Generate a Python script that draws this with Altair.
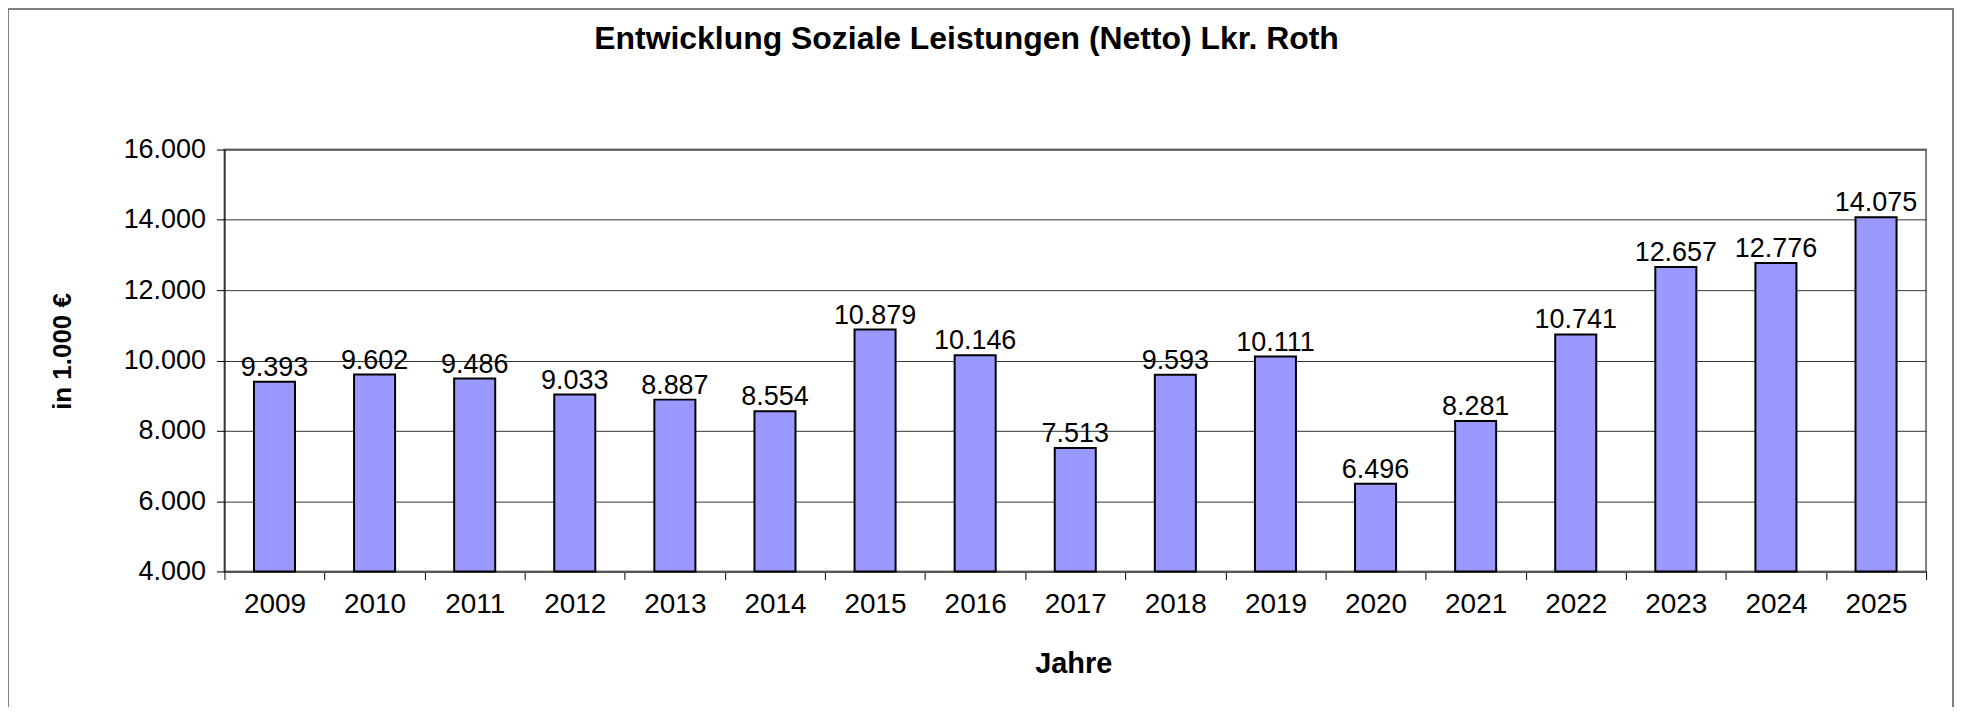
import altair as alt
import pandas as pd

years = ["2009", "2010", "2011", "2012", "2013", "2014", "2015", "2016", "2017",
         "2018", "2019", "2020", "2021", "2022", "2023", "2024", "2025"]
values = [9393, 9602, 9486, 9033, 8887, 8554, 10879, 10146, 7513,
          9593, 10111, 6496, 8281, 10741, 12657, 12776, 14075]
y_ticks = [4000, 6000, 8000, 10000, 12000, 14000, 16000]
y_domain = [4000, 16000]
title_text = "Entwicklung Soziale Leistungen (Netto) Lkr. Roth"
x_title = "Jahre"
y_title = "in 1.000 €"

df = pd.DataFrame({"Jahr": years, "Wert": values})

FONT = "Liberation Sans"
DE_FMT_VALUE = "replace(format(datum.value, ',.0f'), ',', '.')"
DE_FMT_WERT = "replace(format(datum.Wert, ',.0f'), ',', '.')"

x_enc = alt.X(
    "Jahr:N",
    sort=years,
    scale=alt.Scale(paddingInner=0, paddingOuter=0),
    axis=alt.Axis(
        title=x_title,
        tickBand="extent",
        labelAngle=0,
        labelFont=FONT,
        labelFontSize=28,
        labelColor="black",
        labelPadding=11,
        tickSize=8,
        tickColor="black",
        domainColor="#555555",
        domainWidth=2,
        grid=False,
        titleFont=FONT,
        titleFontSize=29,
        titleFontWeight="bold",
        titleColor="black",
        titleX=851,
        titleY=92,
        titleAlign="center",
        titleBaseline="middle",
    ),
)

y_enc = alt.Y(
    "Wert:Q",
    scale=alt.Scale(domain=y_domain, nice=False, zero=False),
    axis=alt.Axis(
        values=y_ticks,
        labelExpr=DE_FMT_VALUE,
        labelFont=FONT,
        labelFontSize=27,
        labelColor="black",
        labelPadding=11,
        tickSize=8,
        tickColor="black",
        domainColor="black",
        domainWidth=1,
        grid=True,
        gridColor="#333333",
        gridWidth=1,
        title=y_title,
        titleFont=FONT,
        titleFontSize=26,
        titleFontWeight="bold",
        titleColor="black",
        titleAngle=270,
        titleX=-162,
        titleY=202,
        titleAlign="center",
        titleBaseline="middle",
    ),
)

bars = alt.Chart(df).mark_bar(
    fill="#9999FF", stroke="black", strokeWidth=2,
    width=alt.RelativeBandSize(0.41),
).encode(x=x_enc, y=y_enc, y2=alt.datum(y_domain[0]))

labels = alt.Chart(df).transform_calculate(
    label=DE_FMT_WERT
).mark_text(
    font=FONT, fontSize=27, color="black", baseline="alphabetic", dy=-6
).encode(x=x_enc, y=y_enc, text="label:N")

title = alt.Chart(alt.Data(values=[{"t": title_text}])).mark_text(
    font=FONT, fontSize=32, fontWeight="bold", color="black",
    align="center", baseline="middle",
).encode(x=alt.value(744), y=alt.value(-111), text="t:N")

border = alt.Chart(alt.Data(values=[{"b": 1}])).mark_rect(
    fill="transparent", stroke="#808080", strokeWidth=2
).encode(x=alt.value(-217), x2=alt.value(1733), y=alt.value(-141), y2=alt.value(620))

chart = alt.layer(border, bars, labels, title).properties(
    width=1706,
    height=423,
    autosize=alt.AutoSizeParams(type="none"),
    padding={"left": 217, "top": 141, "right": 30, "bottom": 135},
    background="white",
).configure_view(stroke="#808080", strokeWidth=2)

chart.save("out.html", embed_options={"renderer": "svg", "actions": False})
